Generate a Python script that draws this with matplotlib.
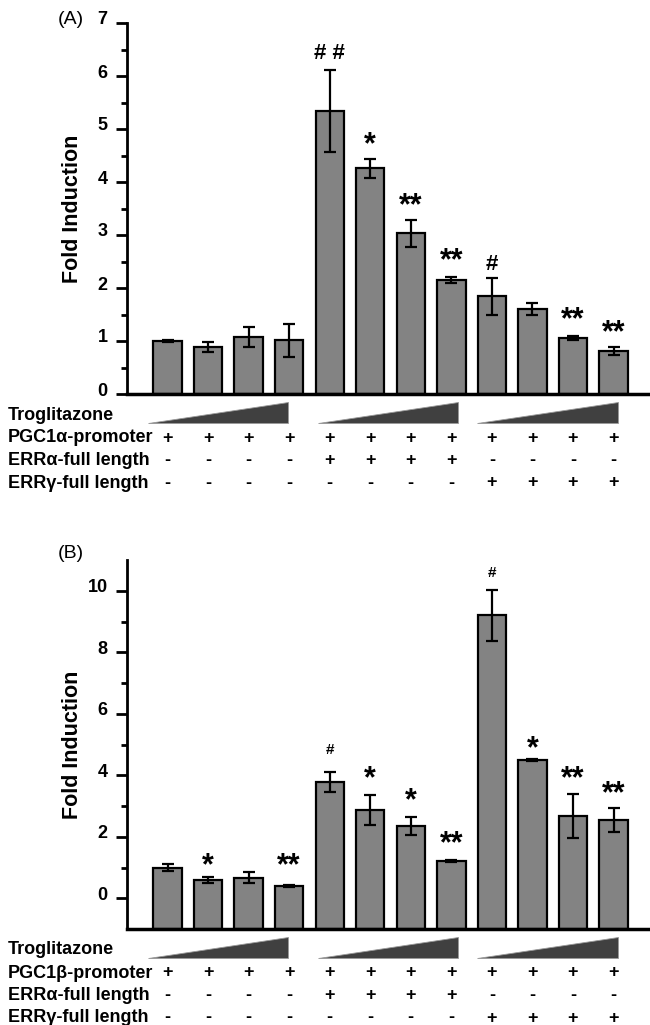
import numpy as np
import matplotlib
matplotlib.use("Agg")
import matplotlib.pyplot as plt
from matplotlib.patches import Polygon
from matplotlib.transforms import ScaledTranslation

plt.rcParams["font.family"] = ["Liberation Sans", "DejaVu Sans"]

# Datos panel A (PGC1alfa)
vals_a = [1.00, 0.89, 1.08, 1.01, 5.34, 4.26, 3.03, 2.15, 1.84, 1.61, 1.06, 0.81]
err_a = [0.01, 0.10, 0.19, 0.32, 0.78, 0.18, 0.26, 0.06, 0.35, 0.11, 0.04, 0.07]
marcas_a = ["", "", "", "", "# #", "*", "**", "**", "#", "", "**", "**"]
ymarca_a = [0, 0, 0, 0, 6.42, 4.70, 3.54, 2.50, 2.44, 0, 1.39, 1.14]

# Datos panel B (PGC1beta)
vals_b = [1.00, 0.60, 0.67, 0.40, 3.78, 2.87, 2.35, 1.21, 9.20, 4.49, 2.67, 2.54]
err_b = [0.12, 0.10, 0.17, 0.03, 0.34, 0.48, 0.30, 0.03, 0.84, 0.03, 0.72, 0.38]
marcas_b = ["", "*", "", "**", "#", "*", "*", "**", "#", "*", "**", "**"]
ymarca_b = [0, 1.05, 0, 1.05, 4.82, 3.88, 3.16, 1.75, 10.57, 4.84, 3.86, 3.38]

filas_a = ["PGC1\u03b1-promoter", "ERR\u03b1-full length", "ERR\u03b3-full length"]
filas_b = ["PGC1\u03b2-promoter", "ERR\u03b1-full length", "ERR\u03b3-full length"]
signos = [
    ["+"] * 12,
    ["-"] * 4 + ["+"] * 4 + ["-"] * 4,
    ["-"] * 8 + ["+"] * 4,
]

W, H = 650, 1025
fig = plt.figure(figsize=(W / 100, H / 100), dpi=100)

x = np.arange(1, 13)
gris = "#838383"
triangulos = [(0.53, 3.96), (4.72, 8.17), (8.64, 12.1)]


def panel(rect, vals, err, marcas, ymarca, ylim, mayor, menor, filas, etiqueta, y_etq):
    ax = fig.add_axes(rect)
    ymin = ylim[0]
    vals = np.array(vals)
    ax.bar(x, vals - ymin, bottom=ymin, width=0.7, color=gris, edgecolor="black",
           linewidth=1.6, zorder=2)
    ax.errorbar(x, vals, yerr=err, fmt="none", ecolor="black", elinewidth=1.6,
                capsize=4, capthick=1.6, zorder=3)
    for xi, m, ym in zip(x, marcas, ymarca):
        if not m:
            continue
        if "#" in m:
            tam = 16 if ylim[1] < 8 else 11
        else:
            tam = 22
        ax.text(xi, ym, m, ha="center", va="center", fontsize=tam, fontweight="bold")

    ax.set_xlim(0, 12.9)
    ax.set_ylim(*ylim)
    ax.set_yticks(mayor)
    ax.set_yticks(menor, minor=True)
    ax.set_xticks([])
    ax.spines["top"].set_visible(False)
    ax.spines["right"].set_visible(False)
    ax.spines["left"].set_linewidth(2)
    ax.spines["bottom"].set_linewidth(2.5)
    ax.tick_params(axis="y", which="major", length=8, width=2, labelsize=13, pad=6)
    ax.tick_params(axis="y", which="minor", length=4, width=2)
    desplaza = ScaledTranslation(0, 5 / 100, fig.dpi_scale_trans)
    for lbl in ax.get_yticklabels():
        lbl.set_fontweight("bold")
        lbl.set_transform(lbl.get_transform() + desplaza)
    ax.set_ylabel("Fold Induction", fontsize=15.5, fontweight="bold")
    ax.yaxis.set_label_coords(-0.084, 0.5)

    # triangulos de troglitazona
    tr = ax.get_xaxis_transform()
    alto = rect[3] * H
    for x0, x1 in triangulos:
        poly = Polygon([(x0, -29 / alto), (x1, -29 / alto), (x1, -8 / alto)],
                       closed=True, transform=tr, clip_on=False,
                       facecolor="#404040", edgecolor="#9a9a9a", linewidth=0.6)
        ax.add_patch(poly)

    y0 = rect[1] * H
    fig.text(8 / W, (y0 - 21) / H, "Troglitazone", fontsize=13, fontweight="bold",
             va="center", ha="left")
    for k, nombre in enumerate(filas):
        yy = y0 - 44 - 22.5 * k
        fig.text(8 / W, yy / H, nombre, fontsize=13, fontweight="bold",
                 va="center", ha="left")
        for xi, s in zip(x, signos[k]):
            ax.text(xi, (yy - y0) / alto, s, transform=tr, ha="center", va="center",
                    fontsize=13, fontweight="bold", clip_on=False)

    fig.text(58 / W, 1 - y_etq / H, etiqueta, fontsize=14, va="center", ha="left")
    return ax


rect_a = [127 / W, 1 - 394 / H, (W - 127) / W, (394 - 23) / H]
panel(rect_a, vals_a, err_a, marcas_a, ymarca_a, (0, 7), np.arange(0, 8),
      np.arange(0.5, 7, 1), filas_a, "(A)", 20)

rect_b = [127 / W, 1 - 929 / H, (W - 127) / W, (929 - 560) / H]
panel(rect_b, vals_b, err_b, marcas_b, ymarca_b, (-1, 11), np.arange(0, 11, 2),
      np.arange(1, 11, 2), filas_b, "(B)", 553)

fig.savefig("out.png", dpi=100)
